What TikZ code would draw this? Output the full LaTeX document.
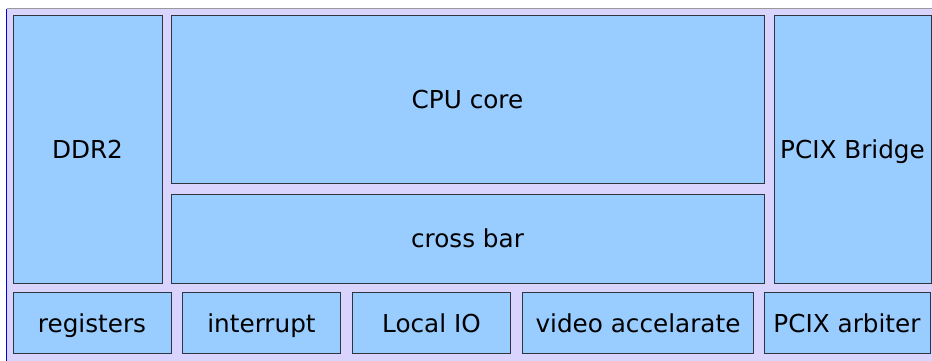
\documentclass[tikz,border=0pt]{standalone}
\usepackage{fontspec}
\setmainfont{DejaVu Sans}
\definecolor{panelfill}{HTML}{D8D4FE}
\definecolor{blockfill}{HTML}{99CCFF}
\definecolor{blockline}{HTML}{2E3440}
\begin{document}
\begin{tikzpicture}[x=1pt,y=-1pt,
  blk/.style={draw=blockline, fill=blockfill, line width=1pt, inner sep=0pt,
    text height=18pt, text depth=0pt,
    font=\fontsize{24.7}{29}\selectfont, text=black}]
\useasboundingbox (0,0) rectangle (932,361);
% chip outline
\fill[panelfill] (6.5,9) rectangle (945,375);
\draw[blue!85!black, line width=1pt] (6.5,9) -- (6.5,375);
\draw[black!40, line width=1pt] (6.5,8.5) -- (945,8.5);
% upper blocks
\node[blk, minimum width=149pt, minimum height=267pt] (ddr) at (87.5,149.5) {DDR2};
\node[blk, minimum width=593pt, minimum height=167pt] (cpu) at (467.5,99.5) {CPU core};
\node[blk, minimum width=593pt, minimum height=89pt] (xbar) at (467.5,238.5) {cross bar};
\node[blk, minimum width=157pt, minimum height=267pt] (bridge) at (852.5,149.5) {PCIX Bridge};
% lower row of blocks
\node[blk, minimum width=158pt, minimum height=61pt] (regs) at (92,323) {registers};
\node[blk, minimum width=158pt, minimum height=61pt] (irq) at (261.5,323) {interrupt};
\node[blk, minimum width=158pt, minimum height=61pt] (lio) at (431.5,323) {Local IO};
\node[blk, minimum width=231pt, minimum height=61pt] (video) at (638,323) {video accelarate};
\node[blk, minimum width=166pt, minimum height=61pt] (arb) at (847,323) {PCIX arbiter};
\end{tikzpicture}
\end{document}
